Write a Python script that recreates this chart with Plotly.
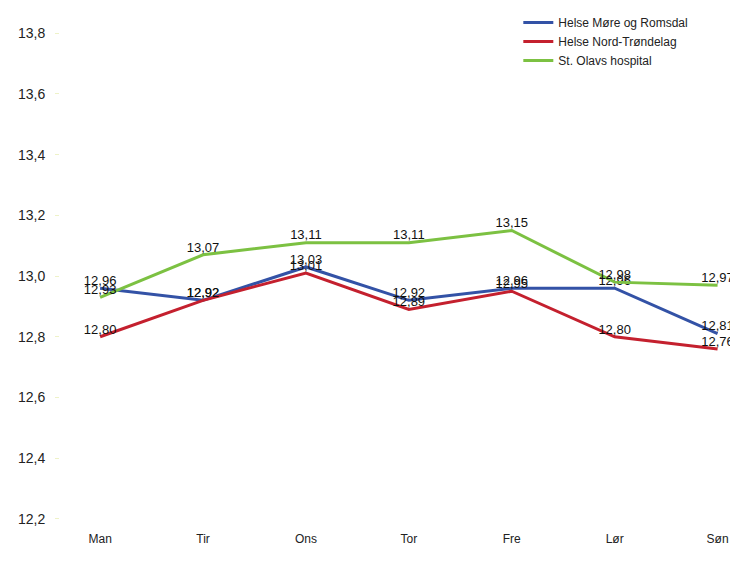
import plotly.graph_objects as go

days = ["Man", "Tir", "Ons", "Tor", "Fre", "Lør", "Søn"]
more_romsdal = [12.96, 12.92, 13.03, 12.92, 12.96, 12.96, 12.81]
nord_trondelag = [12.80, 12.92, 13.01, 12.89, 12.95, 12.80, 12.76]
st_olavs = [12.93, 13.07, 13.11, 13.11, 13.15, 12.98, 12.97]

series_names = ["Helse Møre og Romsdal", "Helse Nord-Trøndelag", "St. Olavs hospital"]
series_values = [more_romsdal, nord_trondelag, st_olavs]
colors = ["#3352a6", "#c4202e", "#7cc142"]

fig = go.Figure()
for name, vals, col in zip(series_names, series_values, colors):
    fig.add_trace(go.Scatter(
        x=days, y=vals, name=name, mode="lines+text",
        line=dict(color=col, width=3),
        text=[f"{v:.2f}".replace(".", ",") for v in vals],
        textposition="top center",
        textfont=dict(family="Liberation Sans, Arial", size=13, color="#111"),
        cliponaxis=False,
    ))

fig.update_layout(
    width=730, height=562,
    paper_bgcolor="white", plot_bgcolor="white",
    separators=",.",
    margin=dict(l=52, r=5, t=10, b=45, autoexpand=False),
    font=dict(family="Liberation Sans, Arial", size=12, color="#222"),
    legend=dict(x=0.681, y=1.0197, xanchor="left", yanchor="top",
                bgcolor="rgba(0,0,0,0)", tracegroupgap=0,
                font=dict(size=12, color="#222"), itemwidth=30),
    showlegend=True,
)
fig.update_xaxes(type="category", range=[-0.39, 6.15], showgrid=False,
                 showline=False, zeroline=False, ticks="", ticklabelstandoff=5,
                 tickfont=dict(size=12, color="#222"))
fig.update_yaxes(range=[12.18, 13.85], tickvals=[12.2, 12.4, 12.6, 12.8, 13.0, 13.2, 13.4, 13.6, 13.8],
                 tickformat=".1f", showgrid=False, showline=False, zeroline=False,
                 ticks="outside", ticklen=4, tickcolor="#eef2c8", ticklabelstandoff=7,
                 tickfont=dict(size=14, color="#222"))

fig.write_html("out.html")
